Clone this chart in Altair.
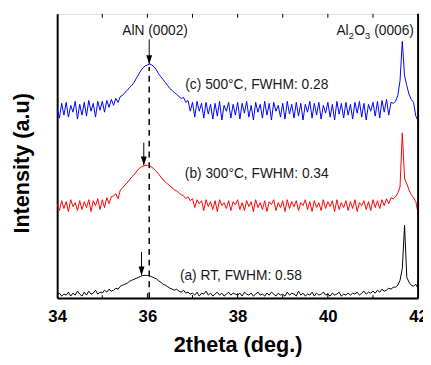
import altair as alt
import pandas as pd

# ---- data -----------------------------------------------------------------
two_theta = [round(34 + 0.05 * i, 2) for i in range(161)]  # sampling grid, deg.

# curve intensities (a.u., stacked offsets included), one row = 0.5 deg
int_a = [3, 5, 2, 4, 3, 6, 2, 5, 3, 7,
         4, 2, 6, 3, 7, 4, 5, 8, 4, 6,
         5, 8, 6, 9, 7, 8, 10, 9, 12, 13,
         14, 15, 17, 18, 19, 20, 21, 22, 23, 23,
         23, 22.5, 21.5, 20.5, 19.5, 17.5, 16, 14, 13, 11.5,
         10, 9, 8, 9, 7, 6, 8, 5, 6, 4,
         5, 3, 6, 2, 5, 4, 7, 3, 5, 2,
         4, 6, 3, 5, 2, 4, 6, 3, 5, 4,
         3, 5, 2, 6, 4, 3, 5, 2, 4, 6,
         3, 4, 2, 5, 3, 6, 4, 2, 5, 3,
         4, 2, 6, 3, 5, 4, 2, 7, 3, 5,
         2, 4, 3, 6, 2, 5, 3, 4, 6, 3,
         4, 2, 5, 3, 4, 6, 2, 4, 3, 5,
         3, 5, 4, 6, 3, 5, 7, 4, 6, 5,
         7, 5, 8, 6, 9, 7, 8, 10, 9, 11,
         11, 13, 18, 30, 74, 21, 16, 13, 12, 14,
         10]
int_b = [96, 89, 99, 91, 98, 88, 100, 93, 97, 89,
         99, 90, 98, 92, 100, 88, 99, 94, 101, 90,
         100, 92, 102, 96, 103, 104, 106, 101, 110, 112,
         115, 117, 120, 123, 125, 128, 131, 133, 134, 135,
         135, 134, 133, 131, 129, 126, 123, 120, 118, 116,
         114, 112, 110, 109, 107, 105, 104, 101, 103, 99,
         101, 92, 100, 96, 99, 89, 100, 93, 98, 90,
         99, 88, 100, 94, 97, 91, 99, 89, 98, 95,
         100, 90, 97, 89, 99, 93, 98, 88, 100, 92,
         97, 90, 99, 88, 98, 95, 100, 89, 97, 92,
         99, 88, 100, 91, 98, 93, 99, 89, 97, 94,
         100, 90, 98, 88, 99, 92, 97, 89, 100, 91,
         98, 93, 99, 88, 100, 90, 97, 92, 99, 89,
         98, 91, 100, 88, 97, 94, 99, 90, 98, 89,
         100, 92, 99, 91, 100, 94, 101, 96, 102, 101,
         103, 107, 113, 168, 122, 116, 110, 105, 102, 98,
         86]
int_c = [192, 183, 198, 186, 199, 184, 196, 189, 200, 182,
         197, 186, 199, 185, 201, 190, 198, 184, 200, 191,
         200, 189, 201, 194, 202, 196, 203, 199, 205, 206,
         209, 211, 214, 216, 219, 223, 227, 231, 234, 236,
         237, 238, 237, 235, 232, 228, 225, 222, 219, 216,
         213, 211, 209, 207, 205, 203, 204, 199, 201, 190,
         199, 184, 200, 190, 198, 183, 199, 187, 197, 182,
         198, 185, 200, 181, 196, 190, 199, 183, 197, 186,
         199, 182, 198, 188, 200, 184, 196, 181, 199, 189,
         197, 183, 200, 186, 198, 181, 199, 190, 196, 184,
         198, 182, 200, 187, 197, 183, 199, 185, 198, 181,
         197, 189, 200, 183, 198, 186, 199, 182, 196, 188,
         199, 184, 197, 181, 200, 187, 198, 183, 199, 186,
         197, 182, 199, 188, 200, 184, 198, 181, 197, 190,
         199, 185, 200, 183, 201, 189, 202, 186, 199, 198,
         200, 206, 221, 261, 226, 216, 207, 202, 199, 185,
         180]

series_names = ["(a) RT", "(b) 300°C", "(c) 500°C"]
series_colors = ["#000000", "#ff0000", "#0000ff"]

# peak markers: x, arrow start, arrow tip
arrow_x = [36.04, 35.92, 35.87]
arrow_y0 = [263, 158, 47]
arrow_y1 = [238, 135, 23]

dash_x = [36.04]
dash_top = [235]

label_text = ["(c) 500°C, FWHM: 0.28", "(b) 300°C, FWHM: 0.34", "(a) RT, FWHM: 0.58"]
label_x = [36.84, 36.83, 36.72]
label_y = [213, 122, 18]

aln_text = ["AlN (0002)"]
aln_x = [36.17]
aln_y = [267]

sap_pieces = ["Al", "2", "O", "3", "(0006)"]
sap_x = [40.19]
sap_y = [267]

x_ticks_major = [34, 36, 38, 40, 42]
x_ticks_minor = [35, 37, 39, 41]
x_ticks_top = [35, 36, 37, 38, 39, 40, 41]

# ---- build -----------------------------------------------------------------
FONT = "Liberation Sans"
W, H = 367, 289

rows = []
for name, vals in zip(series_names, [int_a, int_b, int_c]):
    for t, v in zip(two_theta, vals):
        rows.append({"series": name, "x": t, "y": v})
df = pd.DataFrame(rows)

xscale = alt.Scale(domain=[34, 42], nice=False, zero=False)
yscale = alt.Scale(domain=[0, 289], nice=False, zero=False)

x_axis = alt.Axis(values=x_ticks_major, ticks=False, tickSize=0, grid=False,
                  labelFont=FONT, labelFontSize=17, labelFontWeight="bold",
                  labelColor="black", labelPadding=11, labelFlush=False,
                  domainColor="black", domainWidth=2,
                  title="2theta (deg.)", titleFont=FONT, titleFontSize=22,
                  titleFontWeight="bold", titleColor="black",
                  titleY=54, titleBaseline="alphabetic")
y_axis = alt.Axis(labels=False, ticks=False, tickSize=0, grid=False,
                  domainColor="black", domainWidth=2,
                  title="Intensity (a.u)", titleFont=FONT, titleFontSize=22,
                  titleFontWeight="bold", titleColor="black",
                  titleX=-29.5, titleY=151.5, titleAngle=270,
                  titleAlign="center", titleBaseline="alphabetic")

lines = alt.Chart(df).mark_line(strokeWidth=1).encode(
    x=alt.X("x:Q", scale=xscale, axis=x_axis),
    y=alt.Y("y:Q", scale=yscale, axis=y_axis),
    color=alt.Color("series:N", scale=alt.Scale(domain=series_names, range=series_colors), legend=None),
    order=alt.Order("x:Q"),
)

right_border = alt.Chart(pd.DataFrame({"x": [42], "y0": [0], "y1": [289]})).mark_rule(
    color="black", strokeWidth=2).encode(x="x:Q", y="y0:Q", y2="y1:Q")

top_ticks = alt.Chart(pd.DataFrame({"x": x_ticks_top})).mark_rule(
    color="black", strokeWidth=1).encode(x="x:Q", y=alt.value(0), y2=alt.value(4))
bot_major = alt.Chart(pd.DataFrame({"x": x_ticks_major[1:-1]})).mark_rule(
    color="black", strokeWidth=1).encode(x="x:Q", y=alt.value(H), y2=alt.value(H - 5))
bot_minor = alt.Chart(pd.DataFrame({"x": x_ticks_minor})).mark_rule(
    color="black", strokeWidth=1).encode(x="x:Q", y=alt.value(H), y2=alt.value(H - 3))

dash = alt.Chart(pd.DataFrame({"x": dash_x, "y0": [0], "y1": dash_top})).mark_rule(
    color="black", strokeWidth=1.5, strokeDash=[6, 5]).encode(x="x:Q", y="y0:Q", y2="y1:Q")

arr_df = pd.DataFrame({"x": arrow_x, "y0": arrow_y0, "y1": arrow_y1})
arrow_lines = alt.Chart(arr_df).mark_rule(color="black", strokeWidth=1).encode(
    x="x:Q", y="y0:Q", y2="y1:Q")
arrow_heads = alt.Chart(arr_df).mark_point(
    shape="M-0.6,-1.8L0.6,-1.8L0,0Z", size=100, filled=True, color="black",
    opacity=1, strokeWidth=0).encode(x="x:Q", y="y1:Q")

labels = alt.Chart(pd.DataFrame({"t": label_text, "x": label_x, "y": label_y})).mark_text(
    align="left", baseline="alphabetic", font=FONT, fontSize=14, color="#1a1a1a").encode(
    x="x:Q", y="y:Q", text="t:N")

aln = alt.Chart(pd.DataFrame({"t": aln_text, "x": aln_x, "y": aln_y})).mark_text(
    align="center", baseline="alphabetic", font=FONT, fontSize=14, color="#1a1a1a").encode(
    x="x:Q", y="y:Q", text="t:N")

sap_layers = []
offsets = [0, 12.4, 18.0, 28.9, 38.4]
sizes = [14, 10, 14, 10, 14]
dys = [0, 4, 0, 4, 0]
for piece, off, fs, dy in zip(sap_pieces, offsets, sizes, dys):
    sap_layers.append(
        alt.Chart(pd.DataFrame({"t": [piece], "x": sap_x, "y": sap_y})).mark_text(
            align="left", baseline="alphabetic", font=FONT, fontSize=fs,
            color="#1a1a1a", dx=off, dy=dy).encode(x="x:Q", y="y:Q", text="t:N")
    )

chart = alt.layer(
    top_ticks, bot_major, bot_minor, dash, lines, right_border,
    arrow_lines, arrow_heads, labels, aln, *sap_layers
).properties(
    width=W, height=H,
    autosize=alt.AutoSizeParams(type="none"),
    padding={"left": 50, "top": 3, "right": 5, "bottom": 57},
).configure_view(stroke="black", strokeWidth=1).configure(background="white")

chart.save("out.html", embed_options={"renderer": "svg", "actions": False})
